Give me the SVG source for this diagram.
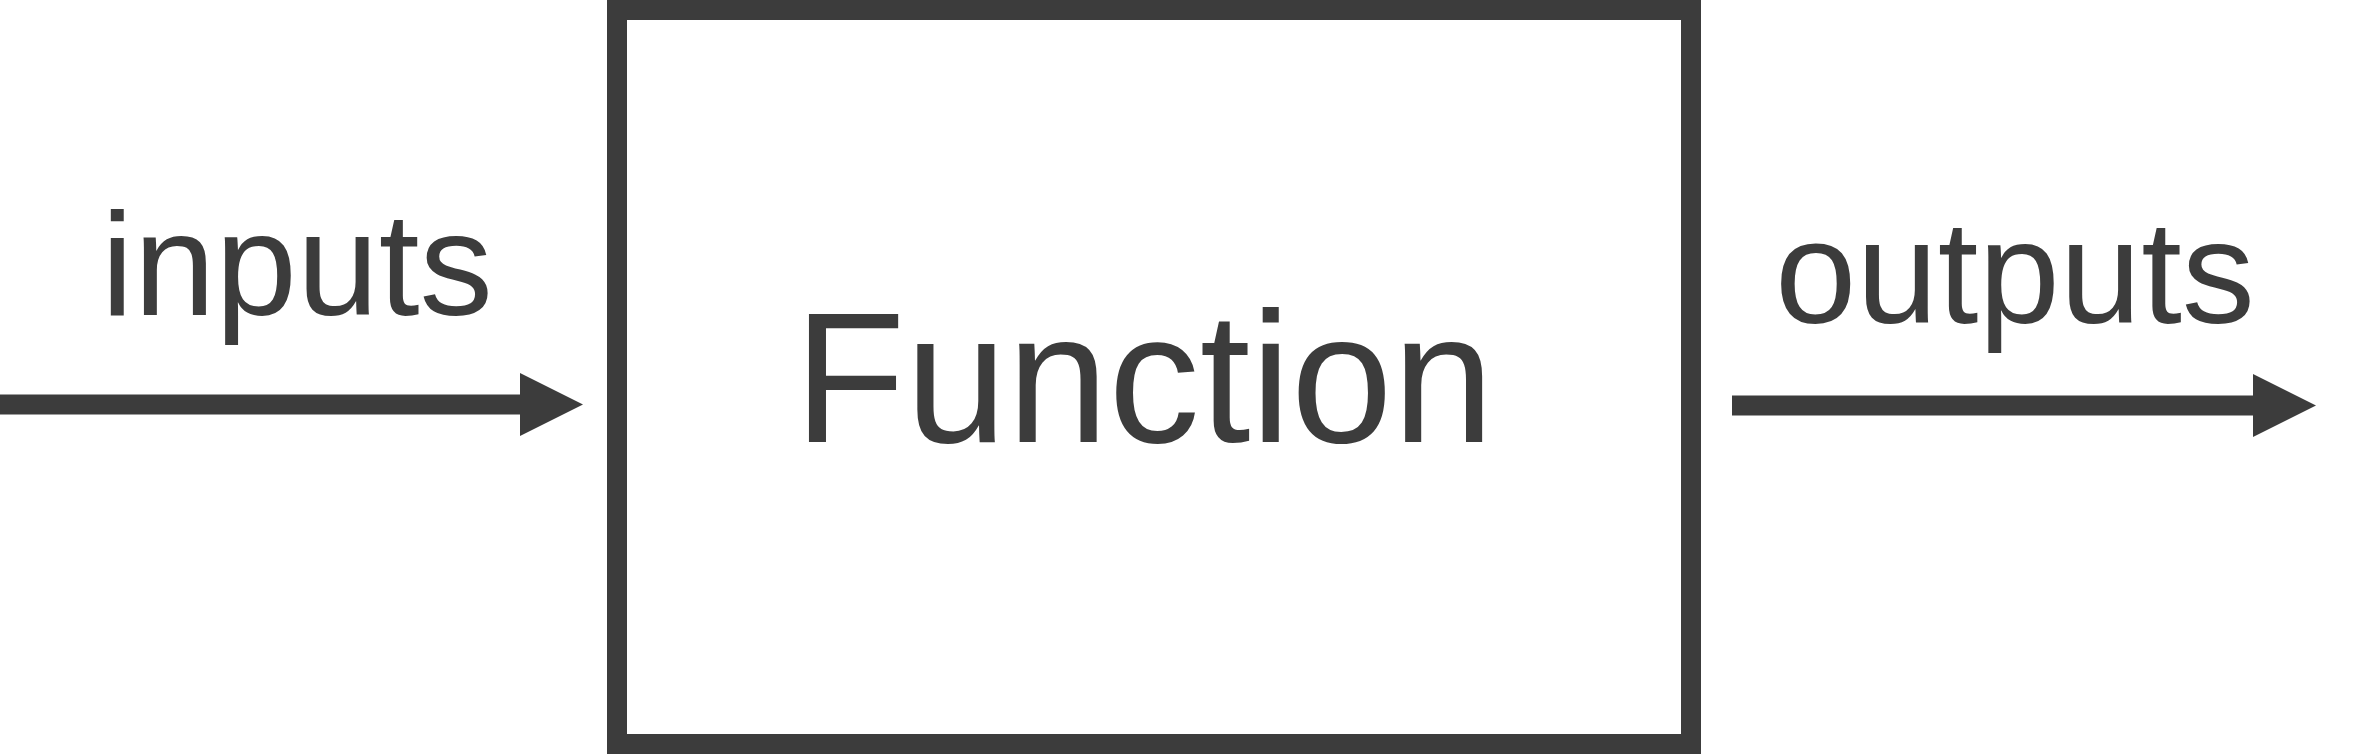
<svg xmlns="http://www.w3.org/2000/svg" width="2380" height="754" viewBox="0 0 2380 754">
  <style>
    .box { fill: #ffffff; stroke: #3c3c3c; stroke-width: 20; }
    .lbl { font-family: "Liberation Sans", Arial, sans-serif; fill: #3c3c3c; text-anchor: middle; }
    .edge { stroke: #3c3c3c; stroke-width: 20; fill: none; marker-end: url(#arrow); }
  </style>
  <defs>
    <marker id="arrow" markerUnits="userSpaceOnUse" markerWidth="64" markerHeight="64" refX="0" refY="31.5" orient="auto" overflow="visible">
      <path d="M0,0 L63,31.5 L0,63 Z" fill="#3c3c3c"/>
    </marker>
  </defs>
  <rect width="2380" height="754" fill="#ffffff"/>
  <g id="function">
    <rect class="box" x="617" y="10" width="1074" height="734"/>
    <text class="lbl" x="1144" y="442" font-size="185" textLength="700" lengthAdjust="spacingAndGlyphs">Function</text>
  </g>
  <g id="inputs-label">
    <text class="lbl" x="297" y="315" font-size="146" textLength="392" lengthAdjust="spacingAndGlyphs">inputs</text>
  </g>
  <g id="outputs-label">
    <text class="lbl" x="2015" y="323" font-size="147" textLength="480" lengthAdjust="spacingAndGlyphs">outputs</text>
  </g>
  <g id="connectors">
    <line class="edge" x1="0" y1="404.5" x2="520" y2="404.5"/>
    <line class="edge" x1="1732" y1="405.5" x2="2253" y2="405.5"/>
  </g>
</svg>
